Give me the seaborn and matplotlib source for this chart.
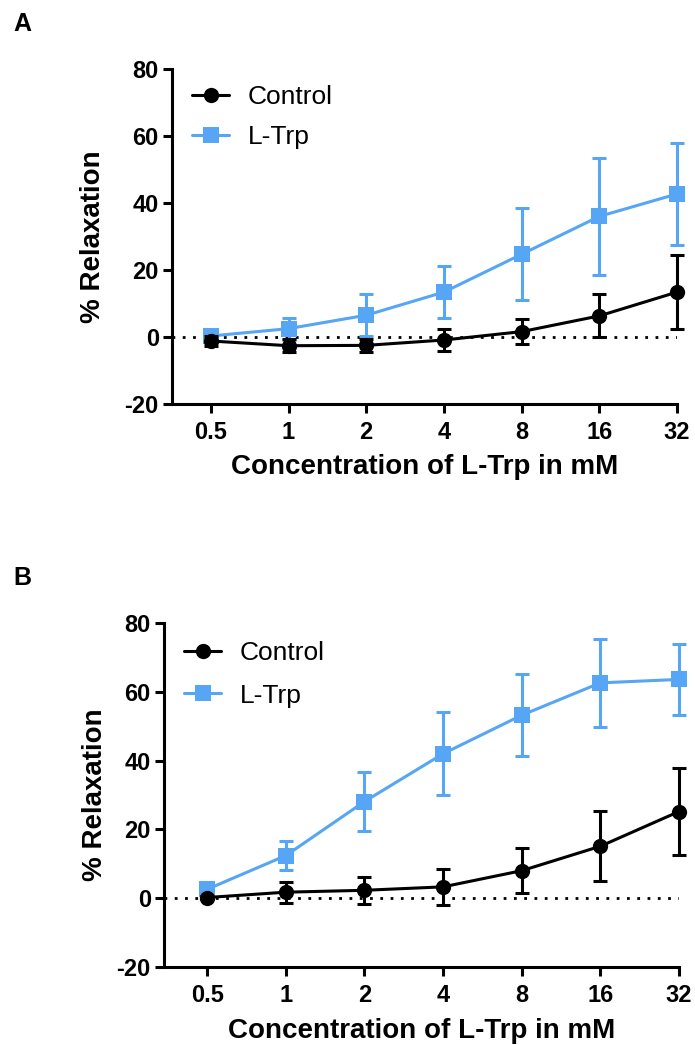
import numpy as np
import pandas as pd
import matplotlib
matplotlib.use("Agg")
import matplotlib.pyplot as plt
import seaborn as sns

conc = [0.5, 1, 2, 4, 8, 16, 32]
conc_labels = ["0.5", "1", "2", "4", "8", "16", "32"]
y_ticks = [-20, 0, 20, 40, 60, 80]

# Panel A
a_control = [-1.2, -2.6, -2.5, -0.9, 1.6, 6.3, 13.4]
a_control_err = [1.5, 2.0, 2.0, 3.2, 3.7, 6.4, 11.1]
a_ltrp = [0.3, 2.5, 6.5, 13.4, 24.7, 36.0, 42.7]
a_ltrp_err = [0.8, 3.3, 6.3, 7.8, 13.7, 17.4, 15.3]

# Panel B
b_control = [0.2, 1.75, 2.3, 3.3, 8.0, 15.1, 25.2]
b_control_err = [0.5, 3.0, 4.0, 5.2, 6.6, 10.2, 12.6]
b_ltrp = [2.6, 12.4, 28.1, 42.0, 53.2, 62.6, 63.6]
b_ltrp_err = [1.0, 4.1, 8.7, 12.0, 12.0, 12.8, 10.3]

BLUE = "#56a6f5"
BLACK = "#000000"
W, H = 695, 1045

sns.set_theme(style="ticks")
plt.rcParams["font.family"] = ["Liberation Sans", "DejaVu Sans"]
plt.rcParams["axes.unicode_minus"] = False
plt.rcParams["text.color"] = "black"
plt.rcParams["axes.labelcolor"] = "black"
plt.rcParams["xtick.color"] = "black"
plt.rcParams["ytick.color"] = "black"
plt.rcParams["axes.edgecolor"] = "black"

fig = plt.figure(figsize=(W / 100, H / 100), dpi=100)


def px_axes(left, right, top, bottom):
    return fig.add_axes([left / W, 1 - bottom / H, (right - left) / W, (bottom - top) / H])


axA = px_axes(172, 677, 69, 404)
axB = px_axes(164, 679, 623, 967)


def draw(ax, ctrl, ctrl_err, ltrp, ltrp_err, left_units, xlab_y, ylab_x, leg_xy, spacing):
    df = pd.DataFrame({
        "conc": conc * 2,
        "val": ltrp + ctrl,
        "group": ["L-Trp"] * len(conc) + ["Control"] * len(conc),
    })
    ax.axhline(0, color="black", linestyle=(0, (1, 2.7)), linewidth=2.0, zorder=1)
    eb1 = ax.errorbar(conc, ltrp, yerr=ltrp_err, fmt="none", ecolor=BLUE,
                      elinewidth=2.2, capsize=4.8, capthick=2.2, zorder=2)
    eb2 = ax.errorbar(conc, ctrl, yerr=ctrl_err, fmt="none", ecolor=BLACK,
                      elinewidth=2.2, capsize=4.8, capthick=2.2, zorder=4)
    for eb in (eb1, eb2):
        for art in eb.lines[1] + eb.lines[2]:
            art.set_clip_on(False)
    sns.lineplot(data=df[df.group == "L-Trp"], x="conc", y="val", ax=ax,
                 color=BLUE, marker="s", markersize=11, markeredgewidth=0,
                 linewidth=2.2, label="L-Trp", zorder=3, clip_on=False)
    sns.lineplot(data=df[df.group == "Control"], x="conc", y="val", ax=ax,
                 color=BLACK, marker="o", markersize=11, markeredgewidth=0,
                 linewidth=2.2, label="Control", zorder=5, clip_on=False)
    ax.set_xscale("log", base=2)
    ax.set_xlim(0.5 / 2 ** left_units, 32)
    ax.set_ylim(-20, 80)
    ax.set_xticks(conc)
    ax.set_xticklabels(conc_labels)
    ax.minorticks_off()
    ax.set_yticks(y_ticks)
    ax.set_yticklabels([str(t) for t in y_ticks])
    for lab in ax.get_xticklabels() + ax.get_yticklabels():
        lab.set_fontweight("bold")
        lab.set_fontsize(17)
    ax.tick_params(axis="both", direction="out", length=6.5, width=2.2)
    ax.tick_params(axis="x", pad=6)
    ax.tick_params(axis="y", pad=3)
    for s in ["top", "right"]:
        ax.spines[s].set_visible(False)
    for s in ["left", "bottom"]:
        ax.spines[s].set_linewidth(2.2)
    ax.set_xlabel("Concentration of L-Trp in mM", fontsize=20, fontweight="bold", va="center")
    ax.set_ylabel("% Relaxation", fontsize=20, fontweight="bold", va="center")
    ax.xaxis.set_label_coords(0.5, xlab_y)
    ax.yaxis.set_label_coords(ylab_x, 0.5)
    handles, labels = ax.get_legend_handles_labels()
    order = [labels.index("Control"), labels.index("L-Trp")]
    ax.legend([handles[i] for i in order], [labels[i] for i in order],
              loc="upper left", bbox_to_anchor=leg_xy, frameon=False, fontsize=19,
              handlelength=1.4, handletextpad=0.7, borderaxespad=0, borderpad=0,
              labelspacing=spacing)


draw(axA, a_control, a_control_err, a_ltrp, a_ltrp_err, 0.5,
     -(467 - 404) / 335, -(172 - 93) / 505, (0.04, 0.952), 0.6)
draw(axB, b_control, b_control_err, b_ltrp, b_ltrp_err, 0.55,
     -(1031 - 967) / 344, -(164 - 95) / 515, (0.039, 0.947), 0.7)

fig.text(13 / W, 1 - 24 / H, "A", fontsize=18, fontweight="bold", va="center", ha="left")
fig.text(13 / W, 1 - 578 / H, "B", fontsize=18, fontweight="bold", va="center", ha="left")

fig.savefig("out.png", dpi=100)
